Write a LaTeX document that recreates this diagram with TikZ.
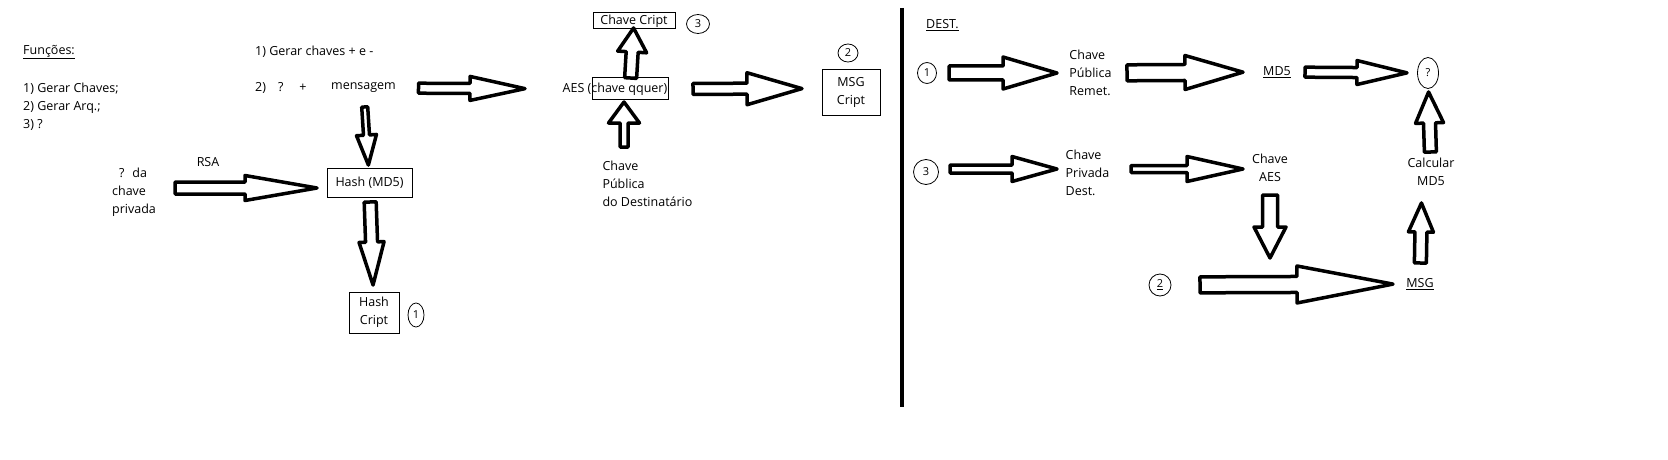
\documentclass[tikz,border=0pt]{standalone}
\usepackage{fontspec}
\setmainfont{Open Sans}
\usetikzlibrary{calc,shapes.geometric}

% hollow block arrow: from, to, gap at start, gap at tip, shaft half width, head half width, head length
\newcommand{\blockarrow}[7]{%
  \coordinate (ba-s) at ($(#1)!#3!(#2)$);
  \coordinate (ba-t) at ($(#2)!#4!(#1)$);
  \coordinate (ba-h) at ($(ba-t)!#7!(ba-s)$);
  \draw[blk] ($(ba-s)!#5!90:(ba-t)$) -- ($(ba-h)!#5!90:(ba-t)$)
    -- ($(ba-h)!#6!90:(ba-t)$) -- (ba-t) -- ($(ba-h)!#6!-90:(ba-t)$)
    -- ($(ba-h)!#5!-90:(ba-t)$) -- ($(ba-s)!#5!-90:(ba-t)$) -- cycle;
}

\begin{document}
\begin{tikzpicture}[
  x=1pt, y=-1pt,
  font=\fontsize{12.5}{18}\selectfont,
  txt/.style={inner sep=1pt, align=left},
  box/.style={draw, line width=1pt, inner sep=0pt, align=center},
  num/.style={ellipse, draw, line width=0.8pt, inner sep=0pt, font=\fontsize{11}{12}\selectfont},
  blk/.style={draw=black, line width=3.5pt, line join=round, fill=white},
  sep/.style={line width=4.5pt}
]
\useasboundingbox (0,0) rectangle (1668,460);

% ---------------- sender side ----------------
\node[txt, anchor=west] (fun) at (22,52) {\underline{Funções:}};
\node[txt, anchor=west] (lst) at (22,107) {1) Gerar Chaves;\\2) Gerar Arq.;\\3) ?};
\node[txt, anchor=west] (gen) at (254,52) {1) Gerar chaves + e -};
\node[txt, anchor=west] (sum) at (254,88) {2)\hspace{12pt}?\hspace{16pt}+};
\node[txt] (msg) at (363.5,88) {mensagem};
\node[txt] (rsa) at (208,162) {RSA};
\node[txt] (priv) at (134,192) {\hspace*{7pt}?\hspace{8pt}da\\chave\\privada};
\node[box, minimum width=85pt, minimum height=29pt] (hash) at (369.5,182.5) {Hash (MD5)};
\node[box, minimum width=50pt, minimum height=41pt] (hcr) at (374,312.5) {Hash\\Cript};
\node[num, minimum width=16pt, minimum height=24pt] (c1) at (416,315) {1};

\node[txt] (aes) at (615,89) {AES (chave qquer)};
\node[box, minimum width=76pt, minimum height=21pt] (qq) at (630,88.5) {};
\node[box, minimum width=82pt, minimum height=16pt] (ccr) at (634,21) {Chave Cript};
\node[num, minimum width=23pt, minimum height=19pt] (c3) at (698,24) {3};
\node[txt] (pubd) at (647.5,183.5) {Chave\\Pública\\do Destinatário};
\node[box, minimum width=58pt, minimum height=45pt] (msgc) at (851,92.5) {MSG\\Cript};
\node[num, minimum width=20pt, minimum height=18pt] (c2) at (848,53) {2};

\blockarrow{msg}{aes}{55pt}{90pt}{5pt}{12pt}{55pt}
\blockarrow{[yshift=4pt]priv}{[yshift=-5.5pt]hash}{41pt}{52.5pt}{6pt}{12.5pt}{72pt}
\blockarrow{msg}{hash}{19pt}{17.5pt}{3pt}{10pt}{30pt}
\blockarrow{hash}{hcr}{19.5pt}{27.5pt}{6pt}{12.5pt}{43pt}
\blockarrow{aes}{[yshift=4pt]msgc}{78pt}{49pt}{5.5pt}{16pt}{55pt}
\blockarrow{qq}{ccr}{10.5pt}{7pt}{6pt}{14.5pt}{24pt}
\blockarrow{[xshift=-23.5pt]pubd}{[xshift=-6pt]qq}{36.5pt}{13.5pt}{4pt}{15.5pt}{21pt}

\draw[sep] (902,8) -- (902,407);

% ---------------- receiver side ----------------
\node[txt, anchor=west] (dest) at (925,25) {\underline{DEST.}};
\node[num, minimum width=19pt, minimum height=21pt] (d1) at (927,73) {1};
\node[txt] (pubr) at (1090.5,73) {Chave\\Pública\\Remet.};
\node[txt] (md5) at (1277,72) {\underline{MD5}};
\node[num, minimum width=21pt, minimum height=31pt] (q) at (1428,73) {?};
\node[num, minimum width=25pt, minimum height=25pt] (d3) at (926,172) {3};
\node[txt] (privd) at (1087.5,173) {Chave\\Privada\\Dest.};
\node[txt, align=center] (aesk) at (1270,168) {Chave\\AES};
\node[txt, align=center] (mdc) at (1431,172) {Calcular\\MD5};
\node[num, minimum width=22pt, minimum height=22pt] (d2) at (1160,285) {\underline{2}};
\node[txt] (msgr) at (1420,284) {\underline{MSG}};
\coordinate (dn) at ([yshift=-90pt]aesk);

\blockarrow{d1}{pubr}{22pt}{33.5pt}{7pt}{16pt}{54pt}
\blockarrow{pubr}{md5}{36.5pt}{34pt}{8pt}{17pt}{58pt}
\blockarrow{md5}{q}{28pt}{21pt}{5pt}{12pt}{50pt}
\blockarrow{[yshift=3pt]d3}{[yshift=4pt]privd}{24pt}{30.5pt}{4pt}{12.5pt}{45pt}
\blockarrow{[yshift=4pt]privd}{[yshift=-1pt]aesk}{43.5pt}{27pt}{3.5pt}{12.5pt}{56pt}
\blockarrow{aesk}{dn}{27pt}{0pt}{7.5pt}{16pt}{31pt}
\blockarrow{d2}{msgr}{40pt}{27pt}{8pt}{18.5pt}{96pt}
\blockarrow{msgr}{[xshift=-9pt]mdc}{21pt}{31pt}{6pt}{12.5pt}{29pt}
\blockarrow{mdc}{q}{20pt}{19pt}{6pt}{14pt}{31pt}

\end{tikzpicture}
\end{document}
